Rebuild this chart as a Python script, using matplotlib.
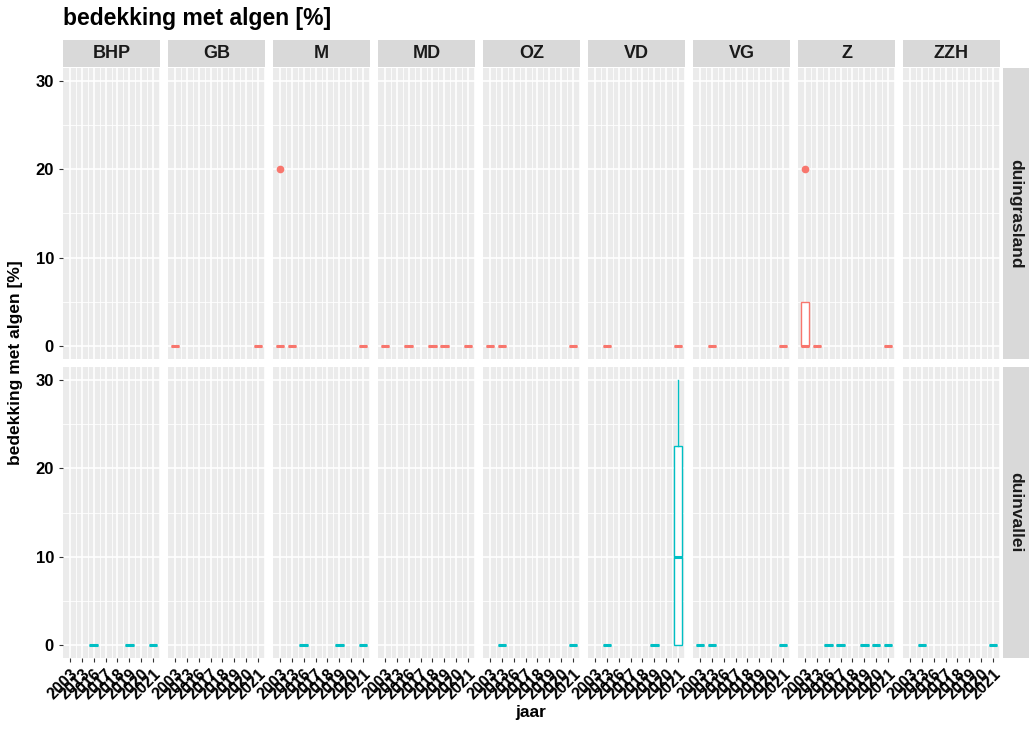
import matplotlib
matplotlib.use("Agg")
import matplotlib.pyplot as plt

plt.rcParams["font.family"] = ["Liberation Sans", "DejaVu Sans"]

# facets and categories
sites = ["BHP", "GB", "M", "MD", "OZ", "VD", "VG", "Z", "ZZH"]
years = ["2003", "2013", "2016", "2017", "2018", "2019", "2020", "2021"]
habitats = ["duingrasland", "duinvallei"]
colors = {"duingrasland": "#F8766D", "duinvallei": "#00BFC4"}

# years in which all plots had 0 % algae cover
zero_grasland = {
    "GB": ["2003", "2021"],
    "M": ["2013", "2021"],
    "MD": ["2003", "2016", "2018", "2019", "2021"],
    "OZ": ["2003", "2013", "2021"],
    "VD": ["2013", "2021"],
    "VG": ["2013", "2021"],
    "Z": ["2013", "2021"],
}
zero_vallei = {
    "BHP": ["2016", "2019", "2021"],
    "M": ["2016", "2019", "2021"],
    "OZ": ["2013", "2021"],
    "VD": ["2013", "2019"],
    "VG": ["2003", "2013", "2021"],
    "Z": ["2016", "2017", "2019", "2020", "2021"],
    "ZZH": ["2013", "2021"],
}
zeros = {"duingrasland": zero_grasland, "duinvallei": zero_vallei}

# boxes with spread: habitat, site, year, whislo, q1, med, q3, whishi, outliers
spread = [
    ("duingrasland", "M", "2003", 0, 0, 0, 0, 0, [20]),
    ("duingrasland", "Z", "2003", 0, 0, 0, 5, 5, [20]),
    ("duinvallei", "VD", "2021", 0, 0, 10, 22.5, 30, []),
]

W, H = 1029, 730
fig = plt.figure(figsize=(W / 100, H / 100), dpi=100)

def frac(x0, y0, w, h):
    return [x0 / W, 1 - (y0 + h) / H, w / W, h / H]

panel_w, step = 97, 105
rows_y = [68, 367]
panel_h = 291
grey_bg = "#EBEBEB"
strip_bg = "#D9D9D9"

for r, hab in enumerate(habitats):
    for c, site in enumerate(sites):
        ax = fig.add_axes(frac(63 + c * step, rows_y[r], panel_w, panel_h))
        ax.set_facecolor(grey_bg)
        for s in ax.spines.values():
            s.set_visible(False)
        ax.set_xlim(-0.6, len(years) - 0.4)
        ax.set_ylim(-1.5, 31.5)
        # grid
        for v in [5, 15, 25]:
            ax.axhline(v, color="white", lw=0.6, zorder=0)
        for v in [0, 10, 20, 30]:
            ax.axhline(v, color="white", lw=1.2, zorder=0)
        for i in range(len(years)):
            ax.axvline(i, color="white", lw=1.2, zorder=0)
            ax.axvline(i + 0.5, color="white", lw=0.6, zorder=0)

        stats, pos = [], []
        for y in zeros[hab].get(site, []):
            stats.append(dict(med=0, q1=0, q3=0, whislo=0, whishi=0, fliers=[]))
            pos.append(years.index(y))
        for h, s, y, lo, q1, med, q3, hi, out in spread:
            if h == hab and s == site:
                stats.append(dict(med=med, q1=q1, q3=q3, whislo=lo, whishi=hi, fliers=out))
                pos.append(years.index(y))
        col = colors[hab]
        if stats:
            ax.bxp(stats, positions=pos, widths=0.72, showcaps=False, patch_artist=True,
                   boxprops=dict(facecolor="white", edgecolor=col, lw=1.0),
                   whiskerprops=dict(color=col, lw=1.0),
                   medianprops=dict(color=col, lw=2.2),
                   flierprops=dict(marker="o", markerfacecolor=col, markeredgecolor=col,
                                   markersize=4.5),
                   manage_ticks=False, zorder=3)

        ax.set_yticks([0, 10, 20, 30])
        ax.tick_params(axis="y", length=3, color="#333333")
        if c == 0:
            ax.set_yticklabels(["0", "10", "20", "30"], fontsize=12, fontweight="bold")
        else:
            ax.tick_params(axis="y", left=False, labelleft=False)
        ax.set_xticks(range(len(years)))
        if r == 1:
            ax.tick_params(axis="x", length=3, color="#333333", pad=3)
            ax.set_xticklabels(years, rotation=45, ha="right", va="top",
                               rotation_mode="anchor", fontsize=11.5, fontweight="bold")
        else:
            ax.tick_params(axis="x", bottom=False, labelbottom=False)

        if r == 0:
            sax = fig.add_axes(frac(63 + c * step, 40, panel_w, 27))
            sax.set_facecolor(strip_bg)
            sax.set_xticks([])
            sax.set_yticks([])
            for s in sax.spines.values():
                s.set_visible(False)
            sax.text(0.5, 0.5, site, ha="center", va="center", fontsize=13,
                     fontweight="bold", color="#1A1A1A", transform=sax.transAxes)

    rax = fig.add_axes(frac(1003, rows_y[r], 26, panel_h))
    rax.set_facecolor(strip_bg)
    rax.set_xticks([])
    rax.set_yticks([])
    for s in rax.spines.values():
        s.set_visible(False)
    rax.text(0.5, 0.5, hab, ha="center", va="center", rotation=-90, fontsize=12.5,
             fontweight="bold", color="#1A1A1A", transform=rax.transAxes)

fig.text(63 / W, 1 - 18 / H, "bedekking met algen [%]", ha="left", va="center",
         fontsize=16.5, fontweight="bold")
fig.text(16 / W, 1 - 363 / H, "bedekking met algen [%]", ha="center", va="center",
         rotation=90, fontsize=12.5, fontweight="bold")
fig.text(531 / W, 1 - 713 / H, "jaar", ha="center", va="center",
         fontsize=12.5, fontweight="bold")

fig.savefig("out.png", dpi=100)
